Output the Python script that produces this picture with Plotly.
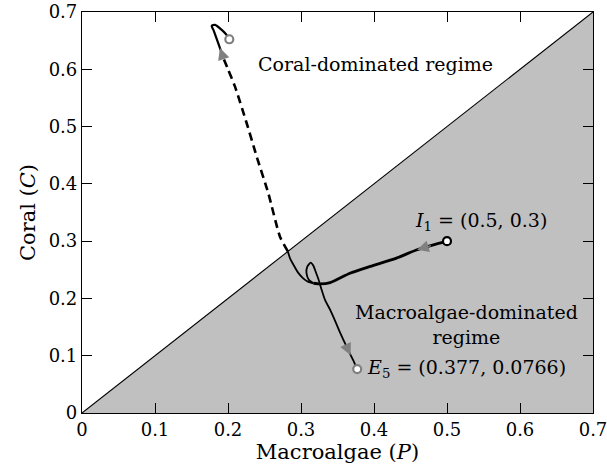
import plotly.graph_objects as go

# ---- data (P = macroalgae, C = coral) ----
P_MAX = 0.7
tick_vals = [0, 0.1, 0.2, 0.3, 0.4, 0.5, 0.6, 0.7]
tick_text = ["0", "0.1", "0.2", "0.3", "0.4", "0.5", "0.6", "0.7"]

# macroalgae-dominated region (below C = P)
region_P = [0, P_MAX, P_MAX]
region_C = [0, 0, P_MAX]
diag_P = [0, P_MAX]
diag_C = [0, P_MAX]

# shared start of both trajectories, from I1
common_P = [0.500, 0.480, 0.459, 0.430, 0.395, 0.367, 0.340, 0.326, 0.317]
common_C = [0.300, 0.293, 0.285, 0.270, 0.256, 0.244, 0.2275, 0.2253, 0.2265]

# trajectory A: loop then to E5
trajA_P = [0.317, 0.311, 0.3075, 0.3085, 0.3133, 0.317, 0.320, 0.324, 0.328,
           0.333, 0.340, 0.347, 0.354, 0.362, 0.368, 0.373, 0.377]
trajA_C = [0.2265, 0.232, 0.244, 0.255, 0.2624, 0.257, 0.247, 0.233, 0.216,
           0.197, 0.180, 0.160, 0.139, 0.117, 0.101, 0.088, 0.0766]

# trajectory B: up toward the diagonal (solid), across it (dashed), then end (solid)
trajB1_P = [0.317, 0.310, 0.303, 0.296, 0.290, 0.285, 0.282]
trajB1_C = [0.2265, 0.229, 0.235, 0.245, 0.258, 0.270, 0.282]
trajB2_P = [0.282, 0.2712, 0.2552, 0.2393, 0.2256, 0.2096, 0.200, 0.1935]
trajB2_C = [0.282, 0.3078, 0.3836, 0.4475, 0.5058, 0.5697, 0.600, 0.620]
trajB3_P = [0.1935, 0.189, 0.184, 0.180, 0.1777, 0.1822, 0.1914, 0.198, 0.2018]
trajB3_C = [0.620, 0.637, 0.655, 0.6687, 0.6757, 0.6775, 0.6687, 0.660, 0.6524]

I1 = (0.5, 0.3)
E5 = (0.377, 0.0766)
END_B = (0.2018, 0.6524)

GRAY = "#808080"
FONT = "DejaVu Serif"

fig = go.Figure()
fig.add_trace(go.Scatter(x=region_P, y=region_C, fill="toself", fillcolor="#c0c0c0",
                         mode="none", hoverinfo="skip"))
fig.add_trace(go.Scatter(x=diag_P, y=diag_C, mode="lines",
                         line=dict(color="black", width=1.1), hoverinfo="skip"))

line_kw = dict(mode="lines", hoverinfo="skip")
fig.add_trace(go.Scatter(x=trajA_P, y=trajA_C, line=dict(color="black", width=1.8, shape="spline", smoothing=0.6), **line_kw))
fig.add_trace(go.Scatter(x=trajB1_P, y=trajB1_C, line=dict(color="black", width=1.8, shape="spline", smoothing=0.6), **line_kw))
fig.add_trace(go.Scatter(x=trajB2_P, y=trajB2_C, line=dict(color="black", width=2.6, dash="8px,5px", shape="spline", smoothing=0.6), **line_kw))
fig.add_trace(go.Scatter(x=trajB3_P, y=trajB3_C, line=dict(color="black", width=2.2, shape="spline", smoothing=0.8), **line_kw))
fig.add_trace(go.Scatter(x=common_P, y=common_C, line=dict(color="black", width=2.8, shape="spline", smoothing=0.6), **line_kw))

# end points
fig.add_trace(go.Scatter(x=[E5[0], END_B[0]], y=[E5[1], END_B[1]], mode="markers",
                         marker=dict(size=8, color="white", line=dict(color=GRAY, width=2.2)), hoverinfo="skip"))
fig.add_trace(go.Scatter(x=[I1[0]], y=[I1[1]], mode="markers",
                         marker=dict(size=8, color="white", line=dict(color="black", width=2.2)), hoverinfo="skip"))

annotations = []
# direction arrows (tip at one trajectory point, tail at the previous one)
for (xs, ys, i) in [(common_P, common_C, 2), (trajA_P, trajA_C, 14), (trajB3_P, trajB3_C, 1)]:
    annotations.append(dict(x=xs[i], y=ys[i], ax=xs[i - 1], ay=ys[i - 1],
                            xref="x", yref="y", axref="x", ayref="y", text="",
                            showarrow=True, arrowhead=2, arrowsize=1.8, arrowwidth=1.3,
                            arrowcolor=GRAY))

tf = dict(family=FONT, size=19, color="black")
annotations += [
    dict(x=0.402, y=0.610, text="Coral-dominated regime", showarrow=False, font=tf,
         xanchor="center", yanchor="middle"),
    dict(x=0.527, y=0.155, text="Macroalgae-dominated<br>regime", showarrow=False, font=tf,
         xanchor="center", yanchor="middle", align="center"),
    dict(x=0.387, y=0.078, text="<i>E</i><sub>5</sub> = (0.377, 0.0766)", showarrow=False, font=tf,
         xanchor="left", yanchor="middle"),
    dict(x=0.453, y=0.334, text="<i>I</i><sub>1</sub> = (0.5, 0.3)", showarrow=False, font=tf,
         xanchor="left", yanchor="middle"),
]

axis_common = dict(range=[0, P_MAX], tickvals=tick_vals, ticktext=tick_text,
                   showgrid=False, zeroline=False, showline=True, linecolor="black",
                   linewidth=1.2, mirror="ticks", ticks="inside", ticklen=10,
                   tickwidth=1.1, tickcolor="black", automargin=False,
                   ticklabeloverflow="allow",
                   tickfont=dict(family=FONT, size=18, color="black"))

fig.update_layout(
    width=607, height=472, showlegend=False,
    margin=dict(l=82, r=14, t=12, b=59),
    plot_bgcolor="white", paper_bgcolor="white",
    xaxis=dict(**axis_common, title=dict(text="Macroalgae (<i>P</i>)", standoff=2,
                                         font=dict(family=FONT, size=21, color="black"))),
    yaxis=dict(**axis_common, title=dict(text="Coral (<i>C</i>)", standoff=7,
                                         font=dict(family=FONT, size=21, color="black"))),
    annotations=annotations,
)

fig.write_html("out.html")
